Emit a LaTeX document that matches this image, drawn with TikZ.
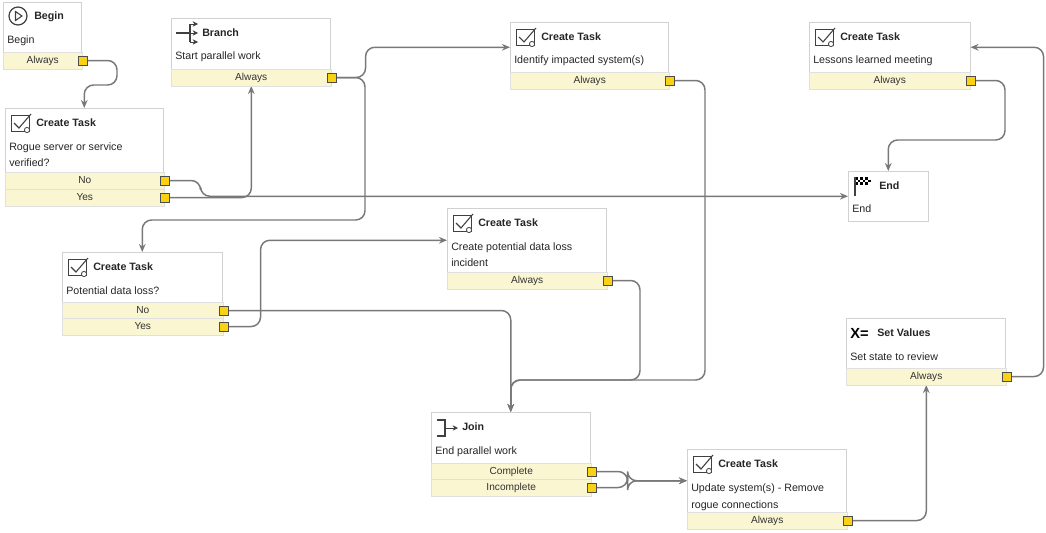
\documentclass[tikz,border=0pt]{standalone}
\usepackage{fontspec}
\setmainfont{Liberation Sans}
\usetikzlibrary{arrows.meta, positioning, backgrounds}

\definecolor{rowfill}{RGB}{250,246,210}
\definecolor{portfill}{RGB}{250,210,20}
\definecolor{edgegray}{RGB}{120,120,120}

\tikzset{
  body/.style={draw=black!18, fill=white, anchor=north west, inner sep=0pt},
  row/.style={draw=black!12, fill=rowfill, anchor=north west, inner sep=0pt,
    font=\fontsize{7.6}{9}\selectfont, text=black!80},
  port/.style={draw=black!70, fill=portfill, minimum size=6.5pt, inner sep=0pt},
  title/.style={anchor=west, inner sep=0pt, font=\fontsize{8}{9}\selectfont\bfseries, text=black!85},
  label/.style={anchor=north west, inner sep=0pt, align=left,
    font=\fontsize{8}{12.75}\selectfont, text=black!85},
  link/.style={draw=edgegray, line width=1.1pt, rounded corners=7pt,
    -{Stealth[length=6pt,width=5pt]}},
  icon/.style={draw=black!75, line width=0.6pt}
}

% block: name, x, y, width, body height, title, text
\newcommand{\block}[7]{%
  \node[body, minimum width=#4*0.75pt, minimum height=#5*0.75pt] (#1) at (#2,#3) {};
  \node[title] (#1-t) at (#2+31,#3+15) {#6};
  \node[label] (#1-x) at (#2+4,#3+34) {#7};
}
% output row: block, row no, label, x, y, width
\newcommand{\outrow}[6]{%
  \node[row, minimum width=#6*0.75pt, minimum height=16.5*0.75pt] (#1-r#2) at (#4,#5) {#3};
  \node[port] (#1-p#2) at (#1-r#2.east) {};
}
% task icon at top left of a block
\newcommand{\taskicon}[2]{%
  \draw[icon] (#1+6,#2+7) rectangle (#1+24,#2+23);
  \draw[icon, line width=0.8pt] (#1+9,#2+15) -- (#1+14,#2+20) -- (#1+26,#2+6);
  \draw[icon, fill=white] (#1+22,#2+22) circle (2.6);
}

\begin{document}
\begin{tikzpicture}[x=0.75pt, y=-0.75pt]
\useasboundingbox (0,0) rectangle (1046,532);

% blocks
\block{begin}{3}{2}{78}{50}{Begin}{Begin}
\outrow{begin}{1}{Always}{3}{52}{79}
\draw[icon, line width=0.9pt] (18,16) circle (9);
\draw[icon, line width=0.8pt] (15.5,11.5) -- (22,16) -- (15.5,20.5) -- cycle;

\block{branch}{171}{18}{159}{51}{Branch}{Start parallel work}
\outrow{branch}{1}{Always}{171}{69}{160}
\draw[icon, line width=1pt] (176,33) -- (190,33);
\draw[icon, line width=1pt] (190,24) -- (190,42);
\draw[icon, -{Stealth[length=4pt,width=4pt]}] (190,24) -- (198,24);
\draw[icon, -{Stealth[length=4pt,width=4pt]}] (190,33) -- (198,33);
\draw[icon, -{Stealth[length=4pt,width=4pt]}] (190,42) -- (198,42);

\block{rogue}{5}{108}{158}{64}{Create Task}{Rogue server or service\\verified?}
\outrow{rogue}{1}{No}{5}{172}{159}
\outrow{rogue}{2}{Yes}{5}{189}{159}
\taskicon{5}{108}

\block{ident}{510}{22}{158}{50}{Create Task}{Identify impacted system(s)}
\outrow{ident}{1}{Always}{510}{72}{159}
\taskicon{510}{22}

\block{lessons}{809}{22}{161}{50}{Create Task}{Lessons learned meeting}
\outrow{lessons}{1}{Always}{809}{72}{161}
\taskicon{809}{22}

\block{end}{848}{171}{80}{50}{End}{End}
\foreach \i in {0,...,5} \foreach \j in {0,1,2}
  {\pgfmathparse{mod(\i+\j,2)==0 ? "black" : "white"}
   \fill[\pgfmathresult] (855+\i*2.6,177+\j*2.6) rectangle ++(2.6,2.6);}
\draw[icon, line width=0.8pt] (855,177) -- (855,196);

\block{dataloss}{62}{252}{160}{50}{Create Task}{Potential data loss?}
\outrow{dataloss}{1}{No}{62}{302}{161}
\outrow{dataloss}{2}{Yes}{62}{318}{161}
\taskicon{62}{252}

\block{incident}{447}{208}{159}{64}{Create Task}{Create potential data loss\\incident}
\outrow{incident}{1}{Always}{447}{272}{160}
\taskicon{447}{208}

\block{setval}{846}{318}{159}{50}{Set Values}{Set state to review}
\outrow{setval}{1}{Always}{846}{368}{160}
\node[anchor=west, inner sep=0pt, font=\fontsize{11}{12}\selectfont\bfseries] at (850,333) {X=};

\block{join}{431}{412}{159}{51}{Join}{End parallel work}
\outrow{join}{1}{Complete}{431}{463}{160}
\outrow{join}{2}{Incomplete}{431}{479}{160}
\draw[icon, line width=1pt] (437,420) -- (445,420) -- (445,436) -- (437,436);
\draw[icon, -{Stealth[length=4pt,width=4pt]}] (445,428) -- (458,428);

\block{update}{687}{449}{159}{63}{Create Task}{Update system(s) - Remove\\rogue connections}
\outrow{update}{1}{Always}{687}{512}{160}
\taskicon{687}{449}

% connectors, under the ports
\begin{scope}[on background layer]
\path[link] (begin-p1) -| (117,85) -| (rogue.north);
\path[link] (rogue-p1) -- ++(36,0) |- (end.west);
\path[link] (rogue-p2) -| (branch-r1.south);
\path[link] (branch-p1) -- ++(34,0) |- (ident.west);
\path[link] (branch-p1) -| (365,220) -| (dataloss.north);
\path[link] (ident-p1) -| (705,380) -| (join.north);
\path[link] (incident-p1) -| (640,380) -| (join.north);
\path[link] (dataloss-p1) -| (join.north);
\path[link] (dataloss-p2) -- ++(37,0) |- (incident.west);
\path[link] (join-p1) -- ++(36,0) |- (update.west);
\path[link] (join-p2) -- ++(36,0) |- (update.west);
\path[link] (update-p1) -| (setval-r1.south);
\path[link] (setval-p1) -- ++(37,0) |- (lessons.east);
\path[link] (lessons-p1) -| (1005,140) -| (end.north);
\end{scope}
\end{tikzpicture}
\end{document}
